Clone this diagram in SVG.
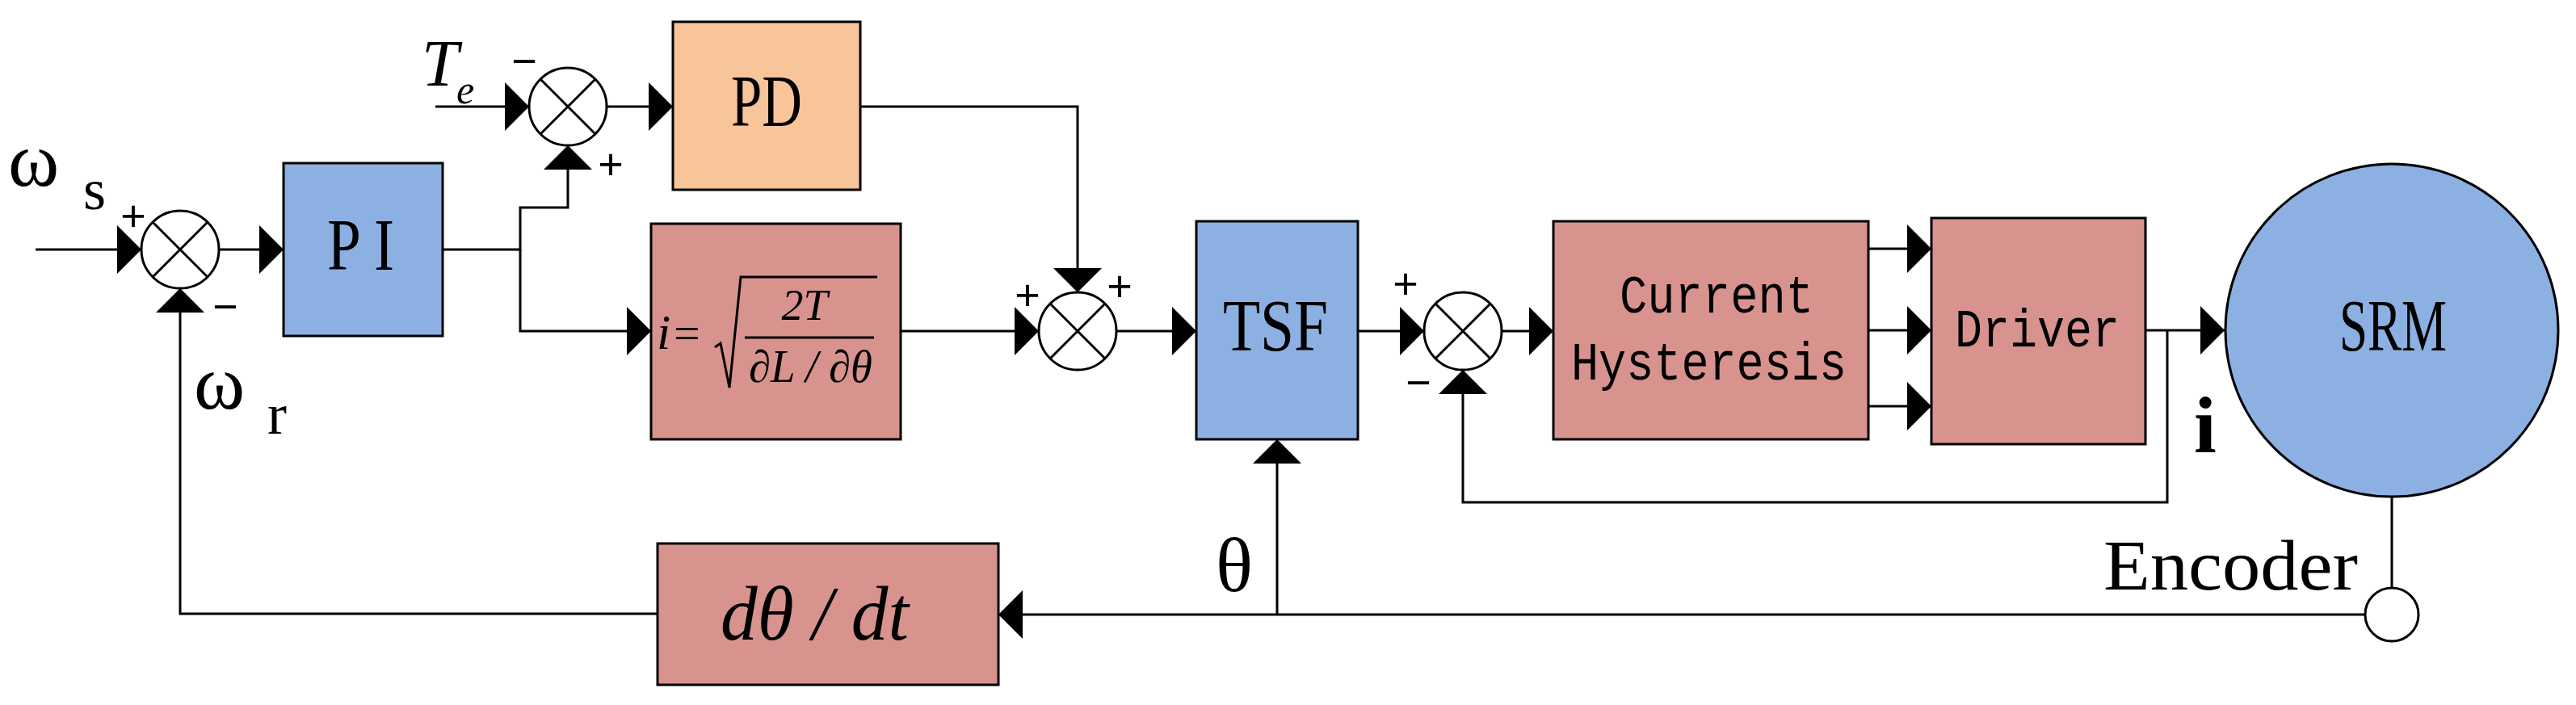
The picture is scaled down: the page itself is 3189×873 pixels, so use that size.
<svg xmlns="http://www.w3.org/2000/svg" width="3189" height="873" viewBox="0 0 3189 873">
<style>
.ln{fill:none;stroke:#000;stroke-width:3}
.sum{fill:#fff;stroke:#000;stroke-width:3}
.blue{fill:#8DB0E2;stroke:#000;stroke-width:3}
.red{fill:#D8938F;stroke:#000;stroke-width:3}
.org{fill:#F8C49A;stroke:#000;stroke-width:3}
.t{font-family:"Liberation Serif",serif;fill:#000}
.m{font-family:"Liberation Mono",monospace;fill:#000}
.sg{font-family:"Liberation Sans",sans-serif;font-size:54px;text-anchor:middle;dominant-baseline:central}
</style>
<defs>
<marker id="a" markerUnits="userSpaceOnUse" markerWidth="32" markerHeight="62" refX="30" refY="30" orient="auto" viewBox="0 0 32 62"><path d="M0,0 L30,30 L0,60 Z" fill="#000"/></marker>
<g id="x"><path d="M-34,-34 L34,34 M-34,34 L34,-34" stroke="#000" stroke-width="3"/></g>
</defs>
<g id="connectors">
<path class="ln" d="M44,309 H175" marker-end="url(#a)"/>
<path class="ln" d="M271,309 H351" marker-end="url(#a)"/>
<path class="ln" d="M548,309 H644 V257 H703 V180" marker-end="url(#a)"/>
<path class="ln" d="M644,309 V410 H806" marker-end="url(#a)"/>
<path class="ln" d="M539,132 H655" marker-end="url(#a)"/>
<path class="ln" d="M751,132 H833" marker-end="url(#a)"/>
<path class="ln" d="M1065,132 H1334 V362" marker-end="url(#a)"/>
<path class="ln" d="M1115,410 H1286" marker-end="url(#a)"/>
<path class="ln" d="M1382,410 H1481" marker-end="url(#a)"/>
<path class="ln" d="M1681,410 H1763" marker-end="url(#a)"/>
<path class="ln" d="M1859,410 H1923" marker-end="url(#a)"/>
<path class="ln" d="M2313,308 H2391" marker-end="url(#a)"/>
<path class="ln" d="M2313,409 H2391" marker-end="url(#a)"/>
<path class="ln" d="M2313,503 H2391" marker-end="url(#a)"/>
<path class="ln" d="M2656,409 H2754" marker-end="url(#a)"/>
<path class="ln" d="M2683,409 V622 H1811 V458" marker-end="url(#a)"/>
<path class="ln" d="M2961,615 V728"/>
<path class="ln" d="M2927,761 H1236" marker-end="url(#a)"/>
<path class="ln" d="M1581,761 V544" marker-end="url(#a)"/>
<path class="ln" d="M814,760 H223 V357" marker-end="url(#a)"/>
</g>
<g id="sum1"><ellipse class="sum" cx="223" cy="309" rx="48" ry="48"/><use href="#x" x="223" y="309"/></g>
<g id="sum2"><ellipse class="sum" cx="703" cy="132" rx="48" ry="48"/><use href="#x" x="703" y="132"/></g>
<g id="sum3"><ellipse class="sum" cx="1334" cy="410" rx="48" ry="48"/><use href="#x" x="1334" y="410"/></g>
<g id="sum4"><ellipse class="sum" cx="1811" cy="410" rx="48" ry="48"/><use href="#x" x="1811" y="410"/></g>
<g id="PI"><rect class="blue" x="351" y="202" width="197" height="214"/><text class="t" x="405" y="334" font-size="92" textLength="83" lengthAdjust="spacingAndGlyphs">P I</text></g>
<g id="PD"><rect class="org" x="833" y="27" width="232" height="208"/><text class="t" x="905" y="156" font-size="92" textLength="88" lengthAdjust="spacingAndGlyphs">PD</text></g>
<g id="formula"><rect class="red" x="806" y="277" width="309" height="267"/>
<text class="t" x="813" y="432" font-size="62" font-style="italic">i</text>
<text class="t" x="834" y="432" font-size="58">=</text>
<path d="M885,430 L892,425 L903,480 L917,343 H1086" fill="none" stroke="#000" stroke-width="3"/>
<path d="M922,418 H1082" stroke="#000" stroke-width="3"/>
<text class="t" x="996" y="396" font-size="54" font-style="italic" text-anchor="middle">2T</text>
<text class="t" x="927" y="473" font-size="56" font-style="italic" textLength="153" lengthAdjust="spacingAndGlyphs">∂L / ∂θ</text>
</g>
<g id="TSF"><rect class="blue" x="1481" y="274" width="200" height="270"/><text class="t" x="1514" y="434" font-size="92" textLength="130" lengthAdjust="spacingAndGlyphs">TSF</text></g>
<g id="CH"><rect class="red" x="1923" y="274" width="390" height="270"/>
<text class="m" x="2005" y="387" font-size="66" textLength="240" lengthAdjust="spacingAndGlyphs">Current</text>
<text class="m" x="1945" y="470" font-size="66" textLength="341" lengthAdjust="spacingAndGlyphs">Hysteresis</text></g>
<g id="Driver"><rect class="red" x="2391" y="270" width="265" height="280"/><text class="m" x="2420" y="429" font-size="66" textLength="204" lengthAdjust="spacingAndGlyphs">Driver</text></g>
<g id="SRM"><circle class="blue" cx="2961" cy="409" r="206"/><text class="t" x="2896" y="434" font-size="92" textLength="133" lengthAdjust="spacingAndGlyphs">SRM</text></g>
<g id="encoder"><circle class="sum" cx="2961" cy="761" r="33"/><text class="t" x="2604" y="730" font-size="88" textLength="315" lengthAdjust="spacingAndGlyphs">Encoder</text></g>
<g id="dtheta"><rect class="red" x="814" y="673" width="422" height="175"/><text class="t" x="892" y="792" font-size="96" font-style="italic" textLength="233" lengthAdjust="spacingAndGlyphs">dθ / dt</text></g>
<g id="labels">
<text class="t" x="10" y="230" font-size="96">ω</text>
<text class="t" x="103" y="259" font-size="72">s</text>
<text class="t" x="240" y="506" font-size="96">ω</text>
<text class="t" x="331" y="537" font-size="72">r</text>
<text class="t" x="522" y="106" font-size="82" font-style="italic">T</text>
<text class="t" x="565" y="128" font-size="50" font-style="italic">e</text>
<text class="t" x="1505" y="732" font-size="96">θ</text>
<text class="t" x="2716" y="560" font-size="100" font-weight="bold">i</text>
<text class="sg" x="165" y="267">+</text>
<text class="sg" x="279" y="379">−</text>
<text class="sg" x="649" y="75">−</text>
<text class="sg" x="756" y="203">+</text>
<text class="sg" x="1272" y="365">+</text>
<text class="sg" x="1386" y="354">+</text>
<text class="sg" x="1740" y="351">+</text>
<text class="sg" x="1756" y="473">−</text>
</g>
</svg>
